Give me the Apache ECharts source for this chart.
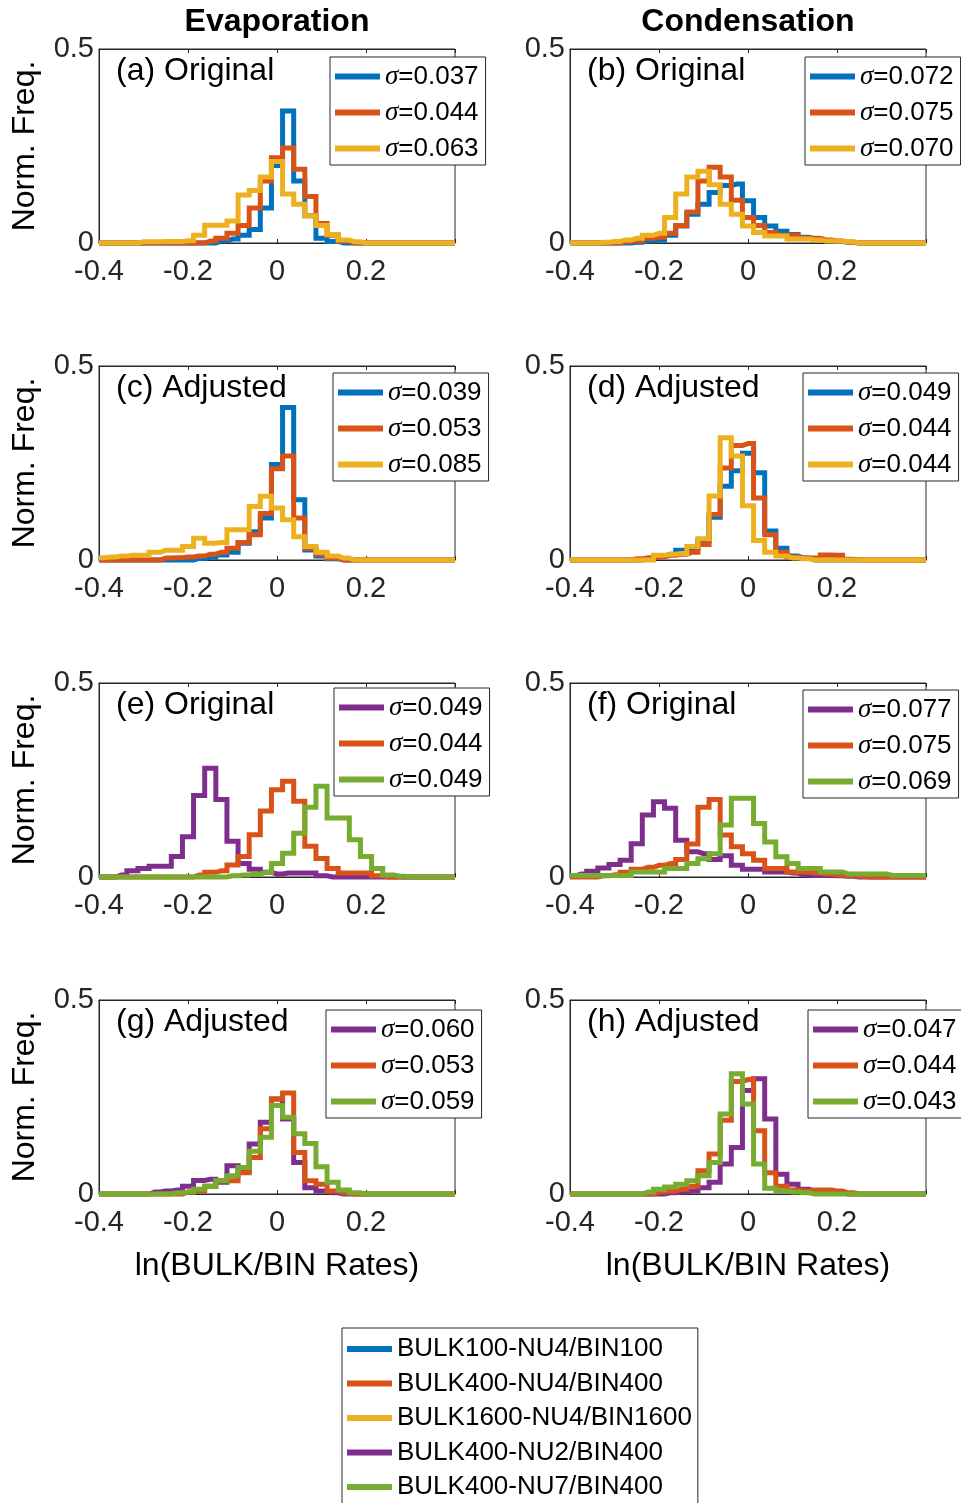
<!DOCTYPE html>
<html>
<head>
<meta charset="utf-8">
<script src="https://cdn.jsdelivr.net/npm/echarts@6/dist/echarts.min.js"></script>
<style>
html,body{margin:0;padding:0;background:#fff;}
#chart{width:961px;height:1503px;}
</style>
</head>
<body>
<div id="chart"></div>
<script>
// ---------------- DATA ----------------
const binCenters = [-0.4,-0.375,-0.35,-0.325,-0.3,-0.275,-0.25,-0.225,-0.2,-0.175,-0.15,-0.125,-0.1,-0.075,-0.05,-0.025,0,0.025,0.05,0.075,0.1,0.125,0.15,0.175,0.2,0.225,0.25,0.275,0.3,0.325,0.35,0.375,0.4];
const xTickValues = [-0.4,-0.2,0,0.2];
const xTickLabels = ['-0.4','-0.2','0','0.2'];
const yTickValues = [0,0.5];
const yTickLabels = ['0','0.5'];

const caseNames = ['BULK100-NU4/BIN100','BULK400-NU4/BIN400','BULK1600-NU4/BIN1600','BULK400-NU2/BIN400','BULK400-NU7/BIN400'];
const columnTitles = ['Evaporation','Condensation'];
const panelLabels = ['(a) Original','(b) Original','(c) Adjusted','(d) Adjusted','(e) Original','(f) Original','(g) Adjusted','(h) Adjusted'];

// (a) Evaporation, original
const aB100  = [0,0,0,0,0,0,0,0,0,0,0,0.005,0.01,0.02,0.035,0.09,0.2,0.34,0.16,0.07,0.012,0.004,0,0,0,0,0,0,0,0,0,0,0];
const aB400  = [0,0,0,0,0,0,0,0,0,0,0.005,0.012,0.025,0.045,0.09,0.16,0.22,0.245,0.19,0.12,0.05,0.02,0.005,0,0,0,0,0,0,0,0,0,0];
const aB1600 = [0,0,0,0,0.003,0.003,0.004,0.004,0.006,0.02,0.046,0.046,0.057,0.124,0.135,0.17,0.21,0.126,0.1,0.07,0.045,0.022,0.008,0.003,0,0,0,0,0,0,0,0,0];
const aSigma = ['0.037','0.044','0.063'];
// (b) Condensation, original
const bB100  = [0,0,0,0,0,0,0.002,0.005,0.008,0.02,0.044,0.074,0.1,0.13,0.148,0.152,0.109,0.066,0.044,0.03,0.022,0.015,0.01,0.006,0.004,0.002,0,0,0,0,0,0,0];
const bB400  = [0,0,0,0,0,0.003,0.006,0.012,0.015,0.025,0.045,0.08,0.16,0.195,0.17,0.11,0.066,0.045,0.027,0.02,0.02,0.013,0.012,0.008,0.005,0.002,0,0,0,0,0,0,0];
const bB1600 = [0,0,0,0.002,0.004,0.008,0.012,0.02,0.025,0.066,0.126,0.17,0.185,0.15,0.1,0.074,0.044,0.027,0.018,0.018,0.01,0.01,0.008,0.005,0.005,0.003,0,0,0,0,0,0,0];
const bSigma = ['0.072','0.075','0.070'];
// (c) Evaporation, adjusted
const cB100  = [0,0,0,0,0,0,0,0,0,0.004,0.007,0.013,0.02,0.043,0.073,0.108,0.246,0.393,0.155,0.026,0.01,0.003,0,0,0,0,0,0,0,0,0,0,0];
const cB400  = [0,0,0,0,0,0,0.005,0.006,0.008,0.01,0.015,0.02,0.03,0.045,0.065,0.12,0.235,0.268,0.108,0.03,0.015,0.005,0,0,0,0,0,0,0,0,0,0,0];
const cB1600 = [0.006,0.008,0.01,0.012,0.012,0.02,0.025,0.025,0.035,0.056,0.043,0.045,0.078,0.078,0.138,0.164,0.134,0.104,0.06,0.035,0.02,0.01,0.005,0,0,0,0,0,0,0,0,0,0];
const cSigma = ['0.039','0.053','0.085'];
// (d) Condensation, adjusted
const dB100  = [0,0,0,0,0,0,0,0.005,0.01,0.015,0.025,0.03,0.05,0.11,0.19,0.23,0.275,0.225,0.075,0.03,0.01,0.005,0,0,0,0,0,0,0,0,0,0,0];
const dB400  = [0,0,0,0,0,0,0.003,0.005,0.008,0.012,0.015,0.02,0.04,0.117,0.237,0.295,0.3,0.16,0.065,0.02,0.008,0.005,0.005,0.013,0.012,0.002,0,0,0,0,0,0,0];
const dB1600 = [0,0,0,0,0,0,0,0,0.012,0.015,0.017,0.035,0.055,0.165,0.315,0.268,0.14,0.05,0.02,0.01,0.005,0.003,0,0,0,0,0,0,0,0,0,0,0];
const dSigma = ['0.049','0.044','0.044'];
// (e) Evaporation, original (NU)
const eNU2 = [0,0,0.005,0.016,0.022,0.028,0.028,0.053,0.104,0.21,0.28,0.2,0.092,0.035,0.02,0.012,0.008,0.01,0.01,0.01,0.003,0,0,0,0,0,0,0,0,0,0,0,0];
const eNU4 = [0,0,0,0,0,0,0,0,0,0.005,0.012,0.016,0.031,0.053,0.109,0.17,0.225,0.247,0.195,0.079,0.048,0.022,0.01,0.01,0.01,0.003,0,0,0,0,0,0,0];
const eNU7 = [0,0,0,0,0,0,0,0,0,0,0,0,0.003,0.005,0.008,0.012,0.035,0.061,0.113,0.18,0.234,0.152,0.152,0.096,0.053,0.022,0.005,0.002,0,0,0,0,0];
const eSigma = ['0.049','0.044','0.049'];
// (f) Condensation, original (NU)
const fNU2 = [0.003,0.008,0.015,0.023,0.032,0.043,0.086,0.16,0.194,0.177,0.095,0.065,0.06,0.045,0.055,0.03,0.02,0.02,0.013,0.013,0.01,0.005,0.004,0.004,0.003,0.002,0,0,0,0,0,0,0];
const fNU4 = [0,0,0,0.003,0.006,0.012,0.02,0.025,0.03,0.035,0.045,0.085,0.18,0.2,0.108,0.078,0.06,0.043,0.022,0.022,0.013,0.013,0.01,0.008,0.005,0.004,0.002,0,0,0,0,0,0];
const fNU7 = [0.004,0.004,0.004,0.004,0.004,0.004,0.013,0.013,0.013,0.022,0.022,0.035,0.047,0.06,0.134,0.203,0.203,0.138,0.09,0.052,0.035,0.022,0.022,0.013,0.013,0.008,0.008,0.008,0.008,0.004,0.004,0.004,0.004];
const fSigma = ['0.077','0.075','0.069'];
// (g) Evaporation, adjusted (NU)
const gNU2 = [0,0,0,0,0,0.005,0.008,0.01,0.02,0.035,0.038,0.03,0.073,0.06,0.129,0.185,0.245,0.193,0.081,0.016,0.008,0.003,0,0,0,0,0,0,0,0,0,0,0];
const gNU4 = [0,0,0,0,0,0,0,0,0.005,0.008,0.02,0.034,0.034,0.055,0.094,0.168,0.245,0.26,0.107,0.034,0.025,0.008,0.003,0,0,0,0,0,0,0,0,0,0];
const gNU7 = [0,0,0,0,0,0,0,0.003,0.005,0.012,0.02,0.034,0.047,0.068,0.11,0.146,0.228,0.198,0.155,0.13,0.07,0.03,0.01,0.003,0,0,0,0,0,0,0,0,0];
const gSigma = ['0.060','0.053','0.059'];
// (h) Condensation, adjusted (NU)
const hNU2 = [0,0,0,0,0,0,0,0,0,0.003,0.005,0.008,0.016,0.03,0.077,0.12,0.267,0.297,0.193,0.051,0.025,0.012,0.008,0.005,0.003,0,0,0,0,0,0,0,0];
const hNU4 = [0,0,0,0,0,0,0,0,0.005,0.008,0.012,0.02,0.06,0.103,0.19,0.29,0.295,0.163,0.055,0.02,0.01,0.008,0.01,0.01,0.008,0.003,0,0,0,0,0,0,0];
const hNU7 = [0,0,0,0,0,0,0,0.005,0.012,0.018,0.025,0.034,0.047,0.081,0.206,0.31,0.232,0.077,0.015,0.008,0.005,0.003,0,0,0,0,0,0,0,0,0,0,0];
const hSigma = ['0.047','0.044','0.043'];

// ---------------- STYLE / LAYOUT ----------------
const caseColors = {
  'BULK100-NU4/BIN100':'#0072BD',
  'BULK400-NU4/BIN400':'#D95319',
  'BULK1600-NU4/BIN1600':'#EDB120',
  'BULK400-NU2/BIN400':'#7E2F8E',
  'BULK400-NU7/BIN400':'#77AC30'
};
const RES_NAMES = [caseNames[0], caseNames[1], caseNames[2]];
const NU_NAMES  = [caseNames[3], caseNames[1], caseNames[4]];

const panels = [
  {values:[aB100,aB400,aB1600], names:RES_NAMES, sigma:aSigma, legend:[330,57]},
  {values:[bB100,bB400,bB1600], names:RES_NAMES, sigma:bSigma, legend:[805,57]},
  {values:[cB100,cB400,cB1600], names:RES_NAMES, sigma:cSigma, legend:[333,373]},
  {values:[dB100,dB400,dB1600], names:RES_NAMES, sigma:dSigma, legend:[803,373]},
  {values:[eNU2,eNU4,eNU7], names:NU_NAMES, sigma:eSigma, legend:[334,688]},
  {values:[fNU2,fNU4,fNU7], names:NU_NAMES, sigma:fSigma, legend:[803,690]},
  {values:[gNU2,gNU4,gNU7], names:NU_NAMES, sigma:gSigma, legend:[326,1010]},
  {values:[hNU2,hNU4,hNU7], names:NU_NAMES, sigma:hSigma, legend:[808,1010]}
];

const FONT = '"Liberation Sans", Arial, Helvetica, sans-serif';
const AX = '#262626';
const colLeft = [99, 570];
const rowTop = [49, 366, 683, 1000];
const GW = 356, GH = 194;

function tickLabel(values, labels, v) {
  for (let i = 0; i < values.length; i++) if (Math.abs(values[i] - v) < 1e-6) return labels[i];
  return '';
}

const grid = [], xAxis = [], yAxis = [], series = [], legend = [], graphic = [];

panels.forEach((p, k) => {
  const col = k % 2, row = Math.floor(k / 2);
  grid.push({left: colLeft[col], top: rowTop[row], width: GW, height: GH,
    show: true, borderColor: AX, borderWidth: 1, backgroundColor: 'transparent'});
  xAxis.push({
    gridIndex: k, type: 'value', position: 'bottom', min: -0.4, max: 0.4, interval: 0.2,
    axisLine: {show: true, onZero: false, lineStyle: {color: AX, width: 1}},
    axisTick: {show: true, inside: true, length: 4, lineStyle: {color: AX}},
    axisLabel: {show: true, margin: 14, fontSize: 29, fontFamily: FONT, color: AX,
      formatter: v => tickLabel(xTickValues, xTickLabels, v)},
    splitLine: {show: false},
    name: row === 3 ? 'ln(BULK/BIN Rates)' : '',
    nameLocation: 'middle', nameGap: 56,
    nameTextStyle: {fontSize: 32, fontFamily: FONT, color: '#000'}
  });
  xAxis.push({
    gridIndex: k, type: 'value', position: 'top', min: -0.4, max: 0.4, interval: 0.2,
    axisLine: {show: true, onZero: false, lineStyle: {color: AX, width: 1}},
    axisTick: {show: true, inside: true, length: 4, lineStyle: {color: AX}},
    axisLabel: {show: false}, splitLine: {show: false}
  });
  yAxis.push({
    gridIndex: k, type: 'value', min: 0, max: 0.5, interval: 0.5,
    axisLine: {show: true, onZero: false, lineStyle: {color: AX, width: 1}},
    axisTick: {show: true, inside: true, length: 4, lineStyle: {color: AX}},
    axisLabel: {show: true, margin: 5, fontSize: 29, fontFamily: FONT, color: AX,
      formatter: v => tickLabel(yTickValues, yTickLabels, v)},
    splitLine: {show: false},
    name: col === 0 ? 'Norm. Freq.' : '',
    nameLocation: 'middle', nameGap: 58, nameRotate: 90,
    nameTextStyle: {fontSize: 32, fontFamily: FONT, color: '#000'}
  });
  p.values.forEach((vals, j) => {
    const nm = p.names[j];
    const color = caseColors[nm];
    series.push({
      type: 'line', name: nm, xAxisIndex: 2 * k, yAxisIndex: k,
      data: binCenters.map((c, i) => [c, vals[i]]),
      step: 'middle', symbol: 'none', showSymbol: false, clip: false,
      color: color, lineStyle: {width: 5, color: color, cap: 'butt', join: 'miter'},
      itemStyle: {color: color}, z: 3 + j, animation: false
    });
  });
  const names = p.names, sig = p.sigma;
  legend.push({
    orient: 'vertical', left: p.legend[0], top: p.legend[1],
    padding: [6, 7, 3, 5], itemGap: 9, itemWidth: 45, itemHeight: 6, icon: 'rect',
    backgroundColor: '#fff', borderColor: AX, borderWidth: 1, borderRadius: 0,
    selectedMode: false, data: names.slice(), z: 10,
    formatter: nm => '{s|σ}{t|=' + sig[names.indexOf(nm)] + '}',
    textStyle: {fontSize: 26, fontFamily: FONT, color: '#000',
      rich: {s: {fontSize: 27, fontFamily: '"Liberation Serif", serif', fontStyle: 'italic', color: '#000'},
             t: {fontSize: 26, fontFamily: FONT, color: '#000'}}}
  });
  graphic.push({type: 'text', x: colLeft[col] + 17, y: rowTop[row] + 22, z: 20,
    style: {text: panelLabels[k], fontSize: 32, fontFamily: FONT, fill: '#000',
      align: 'left', verticalAlign: 'middle'}});
});

columnTitles.forEach((t, c) => {
  graphic.push({type: 'text', x: colLeft[c] + 178, y: 22, z: 20,
    style: {text: t, fontSize: 32, fontWeight: 'bold', fontFamily: FONT, fill: '#000',
      align: 'center', verticalAlign: 'middle'}});
});

legend.push({
  orient: 'vertical', left: 342, top: 1328, width: 360, height: 240,
  padding: [8, 6, 8, 5], itemGap: 8.5, itemWidth: 45, itemHeight: 6, icon: 'rect',
  backgroundColor: '#fff', borderColor: AX, borderWidth: 1, borderRadius: 0,
  selectedMode: false, data: caseNames.slice(),
  textStyle: {fontSize: 26, fontFamily: FONT, color: '#000'}
});

const chart = echarts.init(document.getElementById('chart'), null, {renderer: 'canvas', devicePixelRatio: 1});
chart.setOption({
  animation: false,
  backgroundColor: '#fff',
  grid, xAxis, yAxis, series, legend, graphic
});
</script>
</body>
</html>
